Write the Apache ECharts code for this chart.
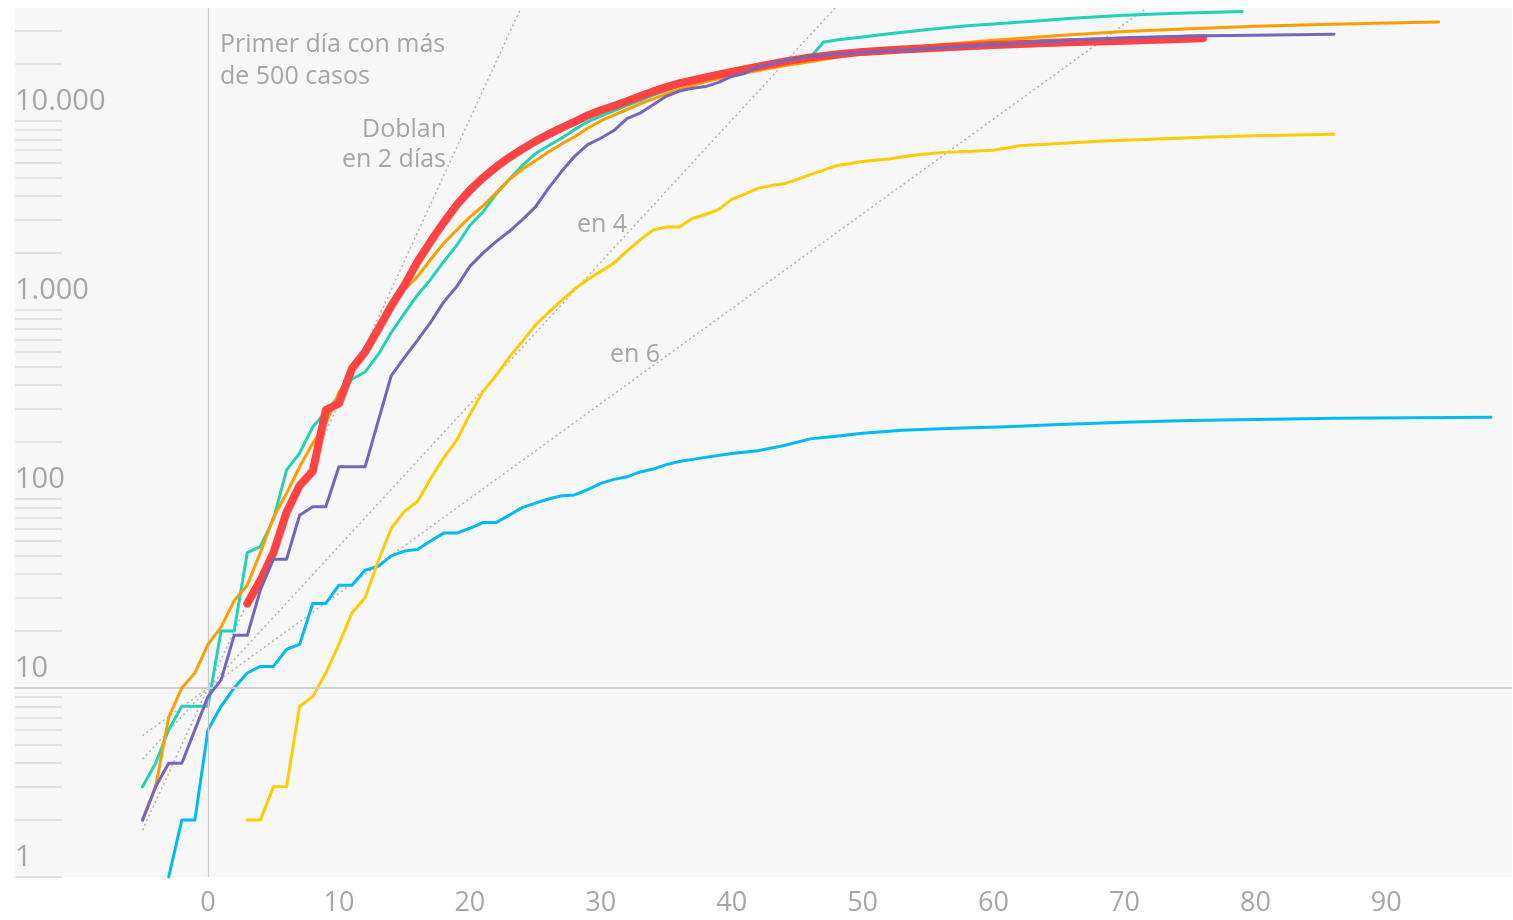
<!DOCTYPE html>
<html>
<head>
<meta charset="utf-8">
<script src="https://cdn.jsdelivr.net/npm/echarts@6/dist/echarts.min.js"></script>
<style>
  html, body { margin: 0; padding: 0; background: #fff; }
  #chart { width: 1513px; height: 920px; }
</style>
</head>
<body>
<div id="chart"></div>
<script>
// días desde el primer día con más de 500 casos -> fallecidos acumulados
const rojo = [[3,28],[4,37],[5,52],[6,85],[7,118],[8,140],[9,295],[10,320],[11,490],[12,600],[13,790],[14,1050],[15,1350],[16,1800],[17,2300],[18,2900],[19,3600],[20,4300],[21,5000],[22,5700],[23,6400],[24,7100],[25,7800],[26,8500],[27,9200],[28,9900],[29,10700],[30,11400],[31,12000],[32,12700],[33,13500],[34,14300],[35,15100],[36,15800],[37,16400],[38,17000],[39,17600],[40,18200],[42,19400],[44,20600],[46,21700],[48,22500],[50,23200],[53,23900],[56,24500],[60,25200],[65,26000],[70,26600],[76,27400]];
const naranja = [[-5,2],[-4,3],[-3,7],[-2,10],[-1,12],[0,17],[1,21],[2,29],[3,35],[4,52],[5,80],[6,107],[7,148],[8,197],[9,250],[10,366],[11,463],[12,631],[13,827],[14,1050],[15,1280],[16,1500],[17,1850],[18,2250],[19,2650],[20,3100],[21,3550],[22,4150],[23,4900],[24,5550],[25,6150],[26,6850],[27,7550],[28,8250],[29,9150],[30,10000],[31,10750],[32,11500],[33,12300],[34,13100],[35,13900],[36,14700],[37,15400],[38,16100],[39,16700],[40,17300],[42,18500],[44,19600],[46,20600],[48,21700],[50,22800],[55,25000],[60,26700],[65,28300],[70,29700],[75,30800],[80,31700],[85,32400],[90,33000],[94,33400]];
const morado = [[-5,2],[-4,3],[-3,4],[-2,4],[-1,6],[0,9],[1,11],[2,19],[3,19],[4,33],[5,48],[6,48],[7,82],[8,91],[9,91],[10,148],[11,148],[12,148],[13,258],[14,450],[15,560],[16,690],[17,860],[18,1100],[19,1330],[20,1700],[21,2000],[22,2300],[23,2600],[24,3000],[25,3500],[26,4400],[27,5400],[28,6500],[29,7500],[30,8100],[31,8900],[32,10300],[33,11000],[34,12200],[35,13500],[36,14400],[37,14900],[38,15200],[39,16000],[40,17200],[41,17900],[42,19300],[43,20000],[44,20800],[45,21500],[46,22000],[48,22600],[50,23100],[53,23700],[56,24400],[60,25300],[62,25800],[66,26800],[70,27600],[76,28200],[80,28400],[86,28800]];
const turquesa = [[-5,3],[-4,4],[-3,6],[-2,8],[-1,8],[0,8],[1,20],[2,20],[3,52],[4,56],[5,78],[6,142],[7,175],[8,240],[9,290],[10,350],[11,430],[12,470],[13,580],[14,760],[15,960],[16,1200],[17,1450],[18,1800],[19,2200],[20,2800],[21,3300],[22,4100],[23,4900],[24,5800],[25,6700],[26,7400],[27,8100],[28,9000],[29,9900],[30,10600],[31,11300],[32,12100],[33,12800],[34,13700],[35,14500],[36,15400],[37,16000],[38,16500],[39,17300],[40,18100],[41,18700],[42,19500],[43,20300],[44,20700],[45,21100],[46,21700],[47,26100],[48,26800],[50,27800],[52,28900],[55,30500],[58,31900],[60,32600],[63,33700],[66,35000],[70,36300],[74,37100],[79,37900]];
const amarillo = [[3,2],[4,2],[5,3],[6,3],[7,8],[8,9],[9,12],[10,17],[11,25],[12,30],[13,47],[14,70],[15,86],[16,97],[17,128],[18,165],[19,205],[20,280],[21,370],[22,450],[23,560],[24,680],[25,830],[26,970],[27,1120],[28,1290],[29,1450],[30,1600],[31,1770],[32,2050],[33,2350],[34,2650],[35,2750],[36,2750],[37,3050],[38,3200],[39,3400],[40,3850],[41,4100],[42,4400],[43,4550],[44,4650],[45,4900],[46,5200],[48,5800],[50,6100],[52,6300],[54,6600],[56,6800],[58,6900],[60,7000],[62,7400],[65,7600],[68,7800],[72,8000],[76,8200],[80,8350],[86,8500]];
const azul = [[-3,1],[-2,2],[-1,2],[0,6],[1,8],[2,10],[3,12],[4,13],[5,13],[6,16],[7,17],[8,28],[9,28],[10,35],[11,35],[12,42],[13,44],[14,50],[15,53],[16,54],[17,60],[18,66],[19,66],[20,70],[21,75],[22,75],[23,82],[24,90],[25,95],[26,100],[27,104],[28,105],[29,112],[30,121],[31,127],[32,131],[33,139],[34,144],[35,152],[36,158],[37,162],[38,166],[40,174],[42,180],[44,192],[46,208],[48,215],[50,223],[53,231],[57,237],[61,241],[65,248],[70,255],[75,260],[80,263],[86,267],[92,269],[98,271]];

// líneas de referencia (doblan en 2, 4 y 6 días): extremos
const dobla2 = [[-5,1.77],[23.9,39600]];
const dobla4 = [[-5,4.2],[47.9,39600]];
const dobla6 = [[-5,5.6],[71.7,39600]];

const xLabels = [0, 10, 20, 30, 40, 50, 60, 70, 80, 90];
const yLabels = [1, 10, 100, 1000, 10000];
const yTicks = [1,2,3,4,5,6,7,8,9,20,30,40,50,60,70,80,90,100,200,300,400,500,600,700,800,900,1000,2000,3000,4000,5000,6000,7000,8000,9000,10000,20000,30000];

const FONT = '"Open Sans"';
const GRAY = '#a6a6a6';
const TXT = '400 25px "Open Sans"';

function miles(v) {
  return String(v).replace(/\B(?=(\d{3})+(?!\d))/g, '.');
}

function linea(data, color, width, z) {
  return {
    type: 'line',
    data: data,
    symbol: 'none',
    z: z,
    lineStyle: { color: color, width: width, cap: 'round', join: 'round' },
    silent: true
  };
}

function referencia(data) {
  return {
    type: 'line',
    data: data,
    symbol: 'none',
    z: 1,
    lineStyle: { color: '#b4b4b4', width: 1.5, type: [2, 3] },
    silent: true
  };
}

const chart = echarts.init(document.getElementById('chart'));

const refLines = referencia(dobla2);
refLines.markLine = {
  symbol: 'none',
  silent: true,
  label: { show: false },
  data: [
    { yAxis: 10, lineStyle: { color: '#cfcfcf', width: 2, type: 'solid' } },
    { xAxis: 0, lineStyle: { color: '#c9c9c9', width: 1.2, type: 'solid' } }
  ]
};

const option = {
  animation: false,
  grid: {
    left: 15,
    right: 1,
    top: 8,
    bottom: 43,
    show: true,
    backgroundColor: '#f7f7f7',
    borderWidth: 0
  },
  xAxis: {
    type: 'value',
    min: -14.74,
    max: 99.6,
    axisLine: { show: false },
    axisTick: { show: false },
    splitLine: { show: false },
    axisLabel: {
      customValues: xLabels,
      color: GRAY,
      fontFamily: FONT,
      fontWeight: 400,
      fontSize: 27,
      margin: 13
    }
  },
  yAxis: {
    type: 'log',
    logBase: 10,
    min: 1,
    max: 39600,
    axisLine: { show: false, onZero: false },
    splitLine: { show: false },
    axisTick: {
      show: true,
      inside: true,
      length: 47,
      customValues: yTicks,
      lineStyle: { color: '#e2e2e2', width: 2 }
    },
    axisLabel: {
      inside: true,
      margin: 0,
      customValues: yLabels,
      formatter: miles,
      color: GRAY,
      fontFamily: FONT,
      fontWeight: 400,
      fontSize: 29,
      align: 'left',
      verticalAlign: 'bottom',
      padding: [0, 0, 5, 0]
    }
  },
  graphic: [
    {
      type: 'text', x: 220, y: 29,
      style: { text: 'Primer día con más\nde 500 casos', font: TXT, fill: GRAY, lineHeight: 32 }
    },
    {
      type: 'text', x: 446, y: 115,
      style: { text: 'Doblan\nen 2 días', font: TXT, fill: GRAY, lineHeight: 30, align: 'right' }
    },
    {
      type: 'text', x: 577, y: 212,
      style: { text: 'en 4', font: TXT, fill: GRAY }
    },
    {
      type: 'text', x: 610, y: 342,
      style: { text: 'en 6', font: TXT, fill: GRAY }
    }
  ],
  series: [
    refLines,
    referencia(dobla4),
    referencia(dobla6),
    linea(azul, '#00baf5', 3, 2),
    linea(amarillo, '#ffcb05', 3, 3),
    linea(turquesa, '#1fd3b7', 3, 4),
    linea(naranja, '#ff9d00', 3, 5),
    linea(rojo, '#ff4242', 8, 6),
    linea(morado, '#7467bb', 3, 7)
  ]
};

chart.setOption(option);
</script>
</body>
</html>
